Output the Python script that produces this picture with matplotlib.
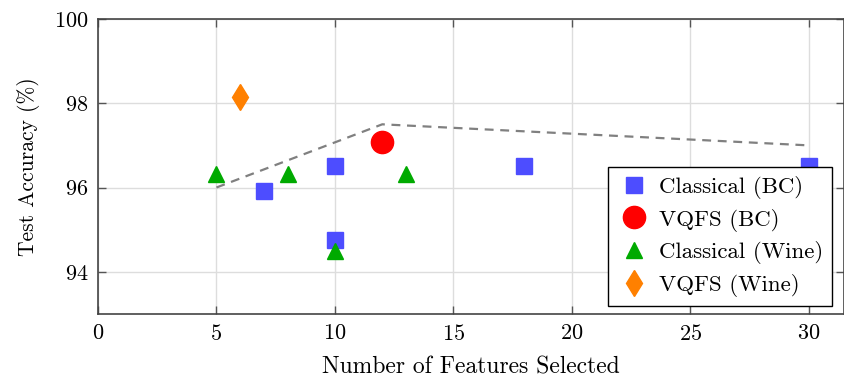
import numpy as np
import matplotlib
matplotlib.use("Agg")
import matplotlib.pyplot as plt

plt.rcParams['font.family'] = ['cmr10', 'DejaVu Serif']
plt.rcParams['axes.formatter.use_mathtext'] = True

# data
bc_cls_x = [7, 10, 10, 18, 30]
bc_cls_y = [95.92, 96.5, 94.75, 96.5, 96.5]
bc_vqfs_x = [12]
bc_vqfs_y = [97.08]
wine_cls_x = [5, 8, 10, 13]
wine_cls_y = [96.33, 96.33, 94.5, 96.33]
wine_vqfs_x = [6]
wine_vqfs_y = [98.15]
trend_x = [5, 12, 30]
trend_y = [96.0, 97.5, 97.0]

fig = plt.figure(figsize=(8.45, 3.8), dpi=100)
ax = fig.add_axes([0.116, 0.174, 0.883, 0.776])

ax.plot(trend_x, trend_y, '--', color='#808080', lw=1.6, dashes=(4, 3), zorder=2)
ax.plot(bc_cls_x, bc_cls_y, 's', color='#4d4dff', ms=12, ls='none', label='Classical (BC)', zorder=3)
ax.plot(bc_vqfs_x, bc_vqfs_y, 'o', color='red', ms=16, ls='none', label='VQFS (BC)', zorder=3)
ax.plot(wine_cls_x, wine_cls_y, '^', color='#00aa00', ms=11, ls='none', label='Classical (Wine)', zorder=4)
ax.plot(wine_vqfs_x, wine_vqfs_y, 'd', color='#ff8000', ms=13.5, ls='none', label='VQFS (Wine)', zorder=3)

ax.set_xlim(0, 31.5)
ax.set_ylim(93, 100)
ax.set_xticks(np.arange(0, 31, 5))
ax.set_yticks([94, 96, 98, 100])
ax.grid(True, color='#dddddd', lw=1)
ax.set_axisbelow(True)
ax.tick_params(direction='in', length=6, width=1, color='#555555', labelsize=16,
               top=True, right=True, pad=7)
for s in ax.spines.values():
    s.set_color('#444444')
    s.set_linewidth(1.2)

ax.set_xlabel('Number of Features Selected', fontsize=17, labelpad=9)
ax.set_ylabel('Test Accuracy (%)', fontsize=15.5, labelpad=10)

leg = ax.legend(loc='lower right', fontsize=16.5, frameon=True, fancybox=False,
                edgecolor='black', framealpha=1, borderpad=0.4, labelspacing=0.42,
                handletextpad=0.4, handlelength=1.4, borderaxespad=0,
                bbox_to_anchor=(0.984, 0.027))
leg.get_frame().set_linewidth(1.0)
leg.set_zorder(5)

fig.savefig('out.png', dpi=100)
